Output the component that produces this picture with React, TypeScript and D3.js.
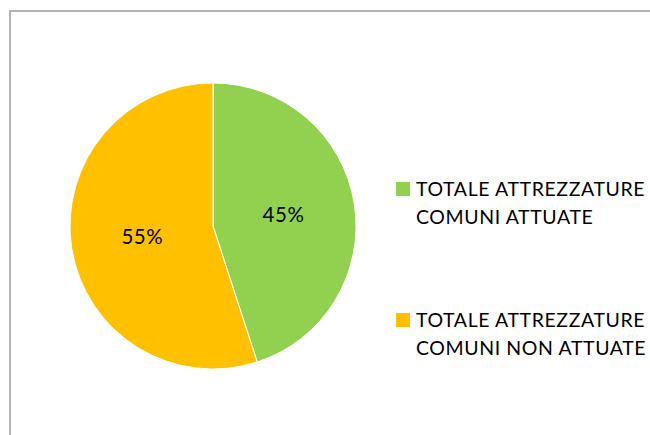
import React from "react";
import * as d3 from "d3";

const categories = ["TOTALE ATTREZZATURE COMUNI ATTUATE", "TOTALE ATTREZZATURE COMUNI NON ATTUATE"];
const legendLines = [["TOTALE ATTREZZATURE", "COMUNI ATTUATE"], ["TOTALE ATTREZZATURE", "COMUNI NON ATTUATE"]];
const values = [45, 55];
const colors = ["#92D050", "#FFC000"];

export default function App() {
  const W = 650, H = 435;
  const cx = 213, cy = 226, r = 143;
  const pie = d3.pie<number>().sort(null).value(d => d)(values);
  const arc = d3.arc<d3.PieArcDatum<number>>().innerRadius(0).outerRadius(r);
  const labelArc = d3.arc<d3.PieArcDatum<number>>().innerRadius(r * 0.5).outerRadius(r * 0.5);
  const total = d3.sum(values);
  const font = "Lato, 'Open Sans', sans-serif";
  return (
    <svg width={W} height={H} style={{ position: "absolute", left: 0, top: 0 }}>
      <rect x={0} y={0} width={W} height={H} fill="#fff" />
      <rect x={10} y={11} width={W + 20} height={H + 20} fill="#fff" stroke="#9a9a9a" strokeWidth={1.5} />
      <g transform={`translate(${cx},${cy})`}>
        {pie.map((p, i) => (
          <path key={i} d={arc(p) || ""} fill={colors[i]} stroke="#fff" strokeWidth={1} />
        ))}
        {pie.map((p, i) => {
          const [x, y] = labelArc.centroid(p);
          return (
            <text key={i} x={x} y={y + 7} textAnchor="middle" fontFamily={font} fontSize={20.5} letterSpacing={0.6} fill="#000">
              {Math.round((p.value / total) * 100) + "%"}
            </text>
          );
        })}
      </g>
      {legendLines.map((lines, i) => {
        const y0 = 196 + i * 131;
        return (
          <g key={i}>
            <rect x={396} y={y0 - 14} width={14} height={14} fill={colors[i]} />
            {lines.map((t, j) => (
              <text key={j} x={416} y={y0 + j * 28} fontFamily={font} fontSize={19.5} letterSpacing={0.6} fill="#000">{t}</text>
            ))}
          </g>
        );
      })}
    </svg>
  );
}
